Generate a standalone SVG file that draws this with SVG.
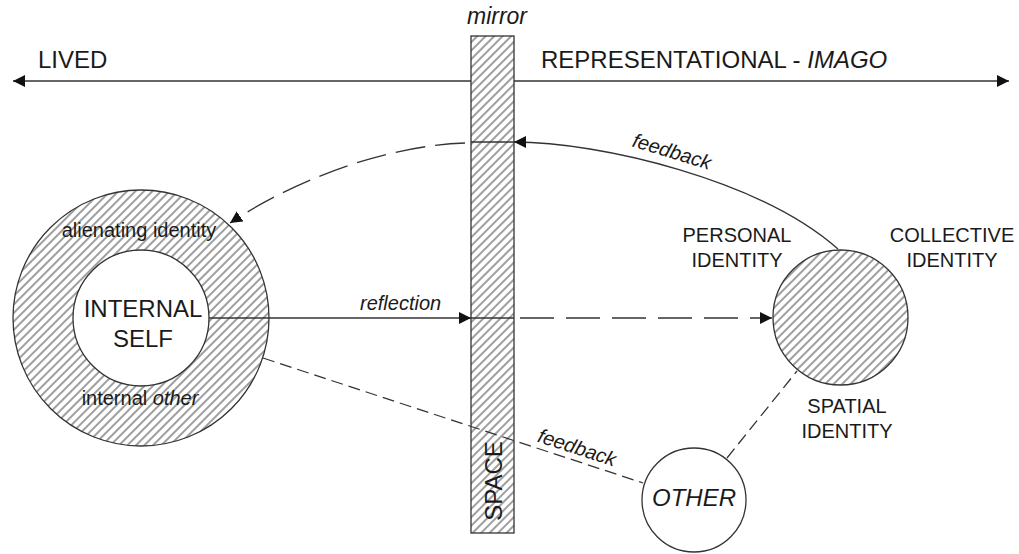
<svg xmlns="http://www.w3.org/2000/svg" width="1019" height="554" viewBox="0 0 1019 554">
  <style>
    .txt { font-family: "Liberation Sans", Arial, sans-serif; fill: #1a1a1a; }
    .big { font-size: 24px; }
    .small { font-size: 20px; }
    .it { font-style: italic; }
    .mid { text-anchor: middle; }
    .outline { stroke: #333; stroke-width: 1.3; }
    .line { fill: none; stroke: #333; stroke-width: 1.3; }
    .dash-long { stroke-dasharray: 34 12; }
    .dash-mid { stroke-dasharray: 30 10; }
    .dash-short { stroke-dasharray: 12 6; }
  </style>
  <defs>
    <pattern id="hatch" patternUnits="userSpaceOnUse" width="6" height="6" patternTransform="rotate(45)">
      <rect width="6" height="6" fill="#fff"/>
      <line x1="3" y1="0" x2="3" y2="6" stroke="#2a2a2a" stroke-width="0.9"/>
    </pattern>
    <marker id="arrow" viewBox="0 0 12 12" refX="12" refY="6" markerWidth="12" markerHeight="12" markerUnits="userSpaceOnUse" orient="auto">
      <path d="M0,0 L12,6 L0,12 Z" fill="#111"/>
    </marker>
  </defs>

  <rect width="1019" height="554" fill="#fff"/>

  <!-- axis: lived <-> representational -->
  <g id="axis">
    <line class="line" x1="492" y1="81" x2="13" y2="81" marker-end="url(#arrow)"/>
    <line class="line" x1="492" y1="81" x2="1009" y2="81" marker-end="url(#arrow)"/>
    <text class="txt big" x="38" y="68">LIVED</text>
    <text class="txt big" x="541" y="68">REPRESENTATIONAL - <tspan class="it">IMAGO</tspan></text>
  </g>

  <!-- mirror / space -->
  <g id="mirror">
    <rect class="outline" x="471" y="36" width="43" height="497" fill="url(#hatch)"/>
    <text class="txt it mid" x="497" y="24" font-size="23">mirror</text>
    <text class="txt big mid" x="502" y="481" transform="rotate(-90 502 481)">SPACE</text>
  </g>

  <!-- internal self with alienating ring -->
  <g id="self">
    <circle class="outline" cx="141" cy="318" r="128" fill="url(#hatch)"/>
    <circle class="outline" cx="141" cy="318" r="68" fill="#fff"/>
    <text class="txt small mid" x="139" y="237">alienating identity</text>
    <text class="txt big mid" x="143" y="317">INTERNAL</text>
    <text class="txt big mid" x="143" y="347">SELF</text>
    <text class="txt small mid" x="140" y="405">internal <tspan class="it">other</tspan></text>
  </g>

  <!-- identity -->
  <g id="identity">
    <circle class="outline" cx="840.5" cy="317.5" r="67.5" fill="url(#hatch)"/>
    <text class="txt small mid" x="737" y="242">PERSONAL</text>
    <text class="txt small mid" x="737" y="267">IDENTITY</text>
    <text class="txt small mid" x="952" y="242">COLLECTIVE</text>
    <text class="txt small mid" x="952" y="267">IDENTITY</text>
    <text class="txt small mid" x="847" y="413">SPATIAL</text>
    <text class="txt small mid" x="847" y="438">IDENTITY</text>
  </g>

  <!-- other -->
  <g id="other">
    <circle class="outline" cx="694" cy="500" r="52" fill="#fff"/>
    <text class="txt big it mid" x="694" y="506">OTHER</text>
  </g>

  <!-- connectors -->
  <g id="connectors">
    <!-- reflection -->
    <line class="line" x1="209" y1="318" x2="471" y2="318" marker-end="url(#arrow)"/>
    <line class="line" x1="471" y1="318" x2="514" y2="318"/>
    <line class="line dash-long" x1="520" y1="318" x2="772" y2="318" marker-end="url(#arrow)"/>
    <text class="txt small it" x="360" y="310">reflection</text>

    <!-- feedback from identity back to the mirror -->
    <path class="line" d="M838,249 C760,180 600,142 514,142" marker-end="url(#arrow)"/>
    <line class="line" x1="471" y1="142" x2="514" y2="142"/>
    <text class="txt small it mid" x="670" y="158" transform="rotate(17 670 158)">feedback</text>

    <!-- alienated image returning to the self -->
    <path class="line dash-mid" d="M465,143 C380,146 290,183 230,223" marker-end="url(#arrow)"/>

    <!-- feedback between self and the other -->
    <line class="line dash-short" x1="263" y1="358" x2="643" y2="483"/>
    <text class="txt small it mid" x="575" y="454" transform="rotate(18 575 454)">feedback</text>

    <!-- other to spatial identity -->
    <line class="line dash-short" x1="727" y1="458" x2="797" y2="371"/>
  </g>
</svg>
